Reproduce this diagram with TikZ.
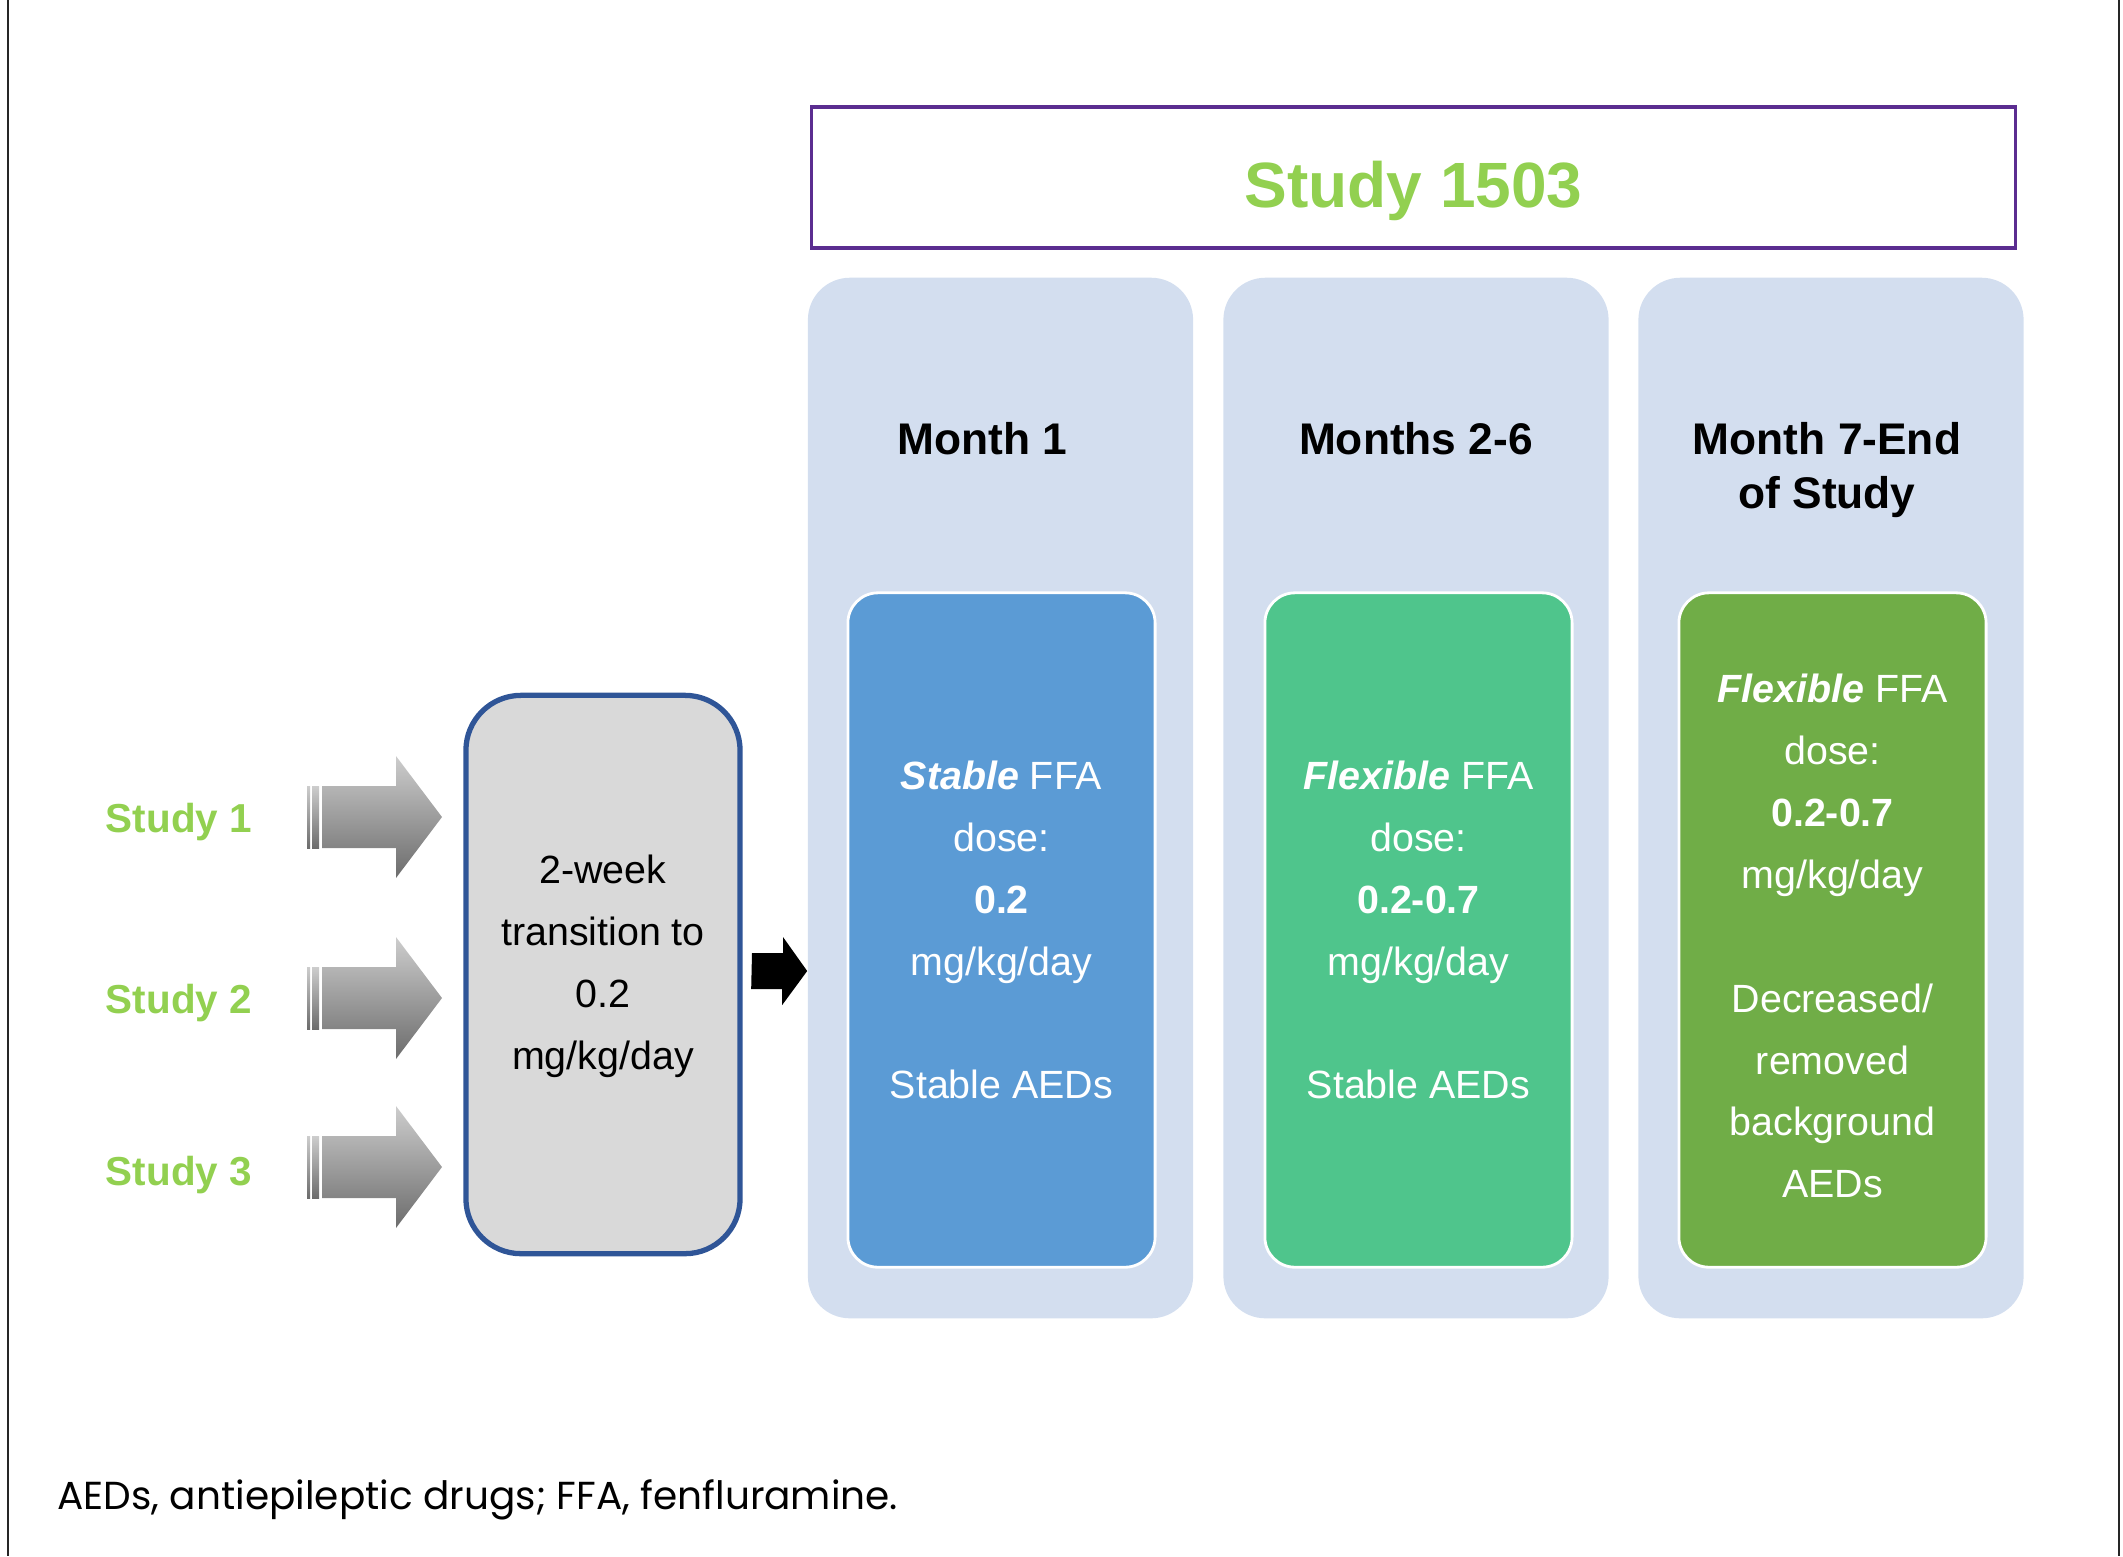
\documentclass[tikz,border=0pt]{standalone}
\usepackage{fontspec}
\setmainfont{Liberation Sans}
\newfontfamily\notefont{Poppins}
\usetikzlibrary{positioning}

\definecolor{panelblue}{HTML}{D3DEEF}
\definecolor{doseblue}{HTML}{5B9BD5}
\definecolor{dosegreen}{HTML}{4FC58C}
\definecolor{doseolive}{HTML}{70AD47}
\definecolor{studygreen}{HTML}{92D050}
\definecolor{transgray}{HTML}{D9D9D9}
\definecolor{transblue}{HTML}{2F5597}
\definecolor{titlepurple}{HTML}{5B2D90}
\definecolor{framegray}{HTML}{262626}
\definecolor{arrtop}{HTML}{CDCDCD}
\definecolor{arrbot}{HTML}{6C6C6C}

\begin{document}
\begin{tikzpicture}[
    x=0.01cm, y=-0.01cm,
    panel/.style={rectangle, rounded corners=0.42cm, fill=panelblue, minimum width=3.85cm, minimum height=10.4cm},
    dosebox/.style={rectangle, rounded corners=0.3cm, draw=white, line width=0.8pt, minimum width=3.07cm, minimum height=6.74cm, text=white, align=center, font=\fontsize{11.2}{17.6}\selectfont},
    header/.style={anchor=north, align=center, font=\bfseries\fontsize{12.6}{15.4}\selectfont},
    study/.style={text=studygreen, font=\bfseries\fontsize{11.5}{14}\selectfont},
    arrowshade/.style={top color=arrtop, bottom color=arrbot},
    node distance=1.33cm
]
    \useasboundingbox (0,0) rectangle (2123,1556);
    % frame
    \draw[framegray, line width=0.6pt] (8,0) -- (8,1556);
    \draw[framegray, line width=0.6pt] (2119,0) -- (2119,1556);

    % Title
    \node[rectangle, draw=titlepurple, line width=0.9pt, minimum width=12.03cm, minimum height=1.41cm] (title) at (1413.5,177.5) {};
    \node[text=studygreen, font=\bfseries\fontsize{18.2}{22}\selectfont] (titletxt) at (1413.5,191) {Study 1503};

    % Panels
    \node[panel] (p1) at (1000.5,798) {};
    \node[panel] (p2) at (1416,798) {};
    \node[panel] (p3) at (1831,798) {};

    \node[header, below=of p1.north, xshift=-0.18cm] (h1) {Month 1};
    \node[header, below=of p2.north] (h2) {Months 2-6};
    \node[header, below=of p3.north, xshift=-0.04cm] (h3) {Month 7-End\\of Study};

    % Dose boxes
    \node[dosebox, fill=doseblue] (d1) at (1001.5,930)
        {\textbf{\textit{Stable}} FFA\\ dose:\\ \textbf{0.2}\\ mg/kg/day\\[17.6pt] Stable AEDs};
    \node[dosebox, fill=dosegreen] (d2) at (1418.5,930)
        {\textbf{\textit{Flexible}} FFA\\ dose:\\ \textbf{0.2-0.7}\\ mg/kg/day\\[17.6pt] Stable AEDs};
    \node[dosebox, fill=doseolive] (d3) at (1832.5,930)
        {\raisebox{0pt}[\height][0pt]{}\\[-6pt]\textbf{\textit{Flexible}} FFA\\ dose:\\ \textbf{0.2-0.7}\\ mg/kg/day\\[17.6pt] Decreased/\\ removed\\ background\\ AEDs};

    % Transition
    \node[rectangle, rounded corners=0.55cm, draw=transblue, line width=1.5pt, fill=transgray,
          minimum width=2.74cm, minimum height=5.58cm] (trans) at (603,974.5) {};
    \node[align=center, font=\fontsize{11.2}{17.6}\selectfont] (transtxt) at (603,966)
        {2-week\\ transition to\\ 0.2\\ mg/kg/day};

    % Studies
    \node[study] (s1) at (179,822) {Study 1};
    \node[study] (s2) at (179,1003) {Study 2};
    \node[study] (s3) at (179,1175) {Study 3};

    % Arrows
    \coordinate (arrx) at (322,0);
    \foreach \s/\dy in {s1/-5,s2/-5,s3/-8} {
        \shade[arrowshade] (\s -| arrx) ++(-15,\dy-31) rectangle ++(3,62);
        \shade[arrowshade] (\s -| arrx) ++(-10,\dy-31) rectangle ++(7,62);
        \shade[arrowshade] (\s -| arrx) ++(0,\dy-31) -- ++(74,0) -- ++(0,-30) -- ++(46,61)
            -- ++(-46,61) -- ++(0,-30) -- ++(-74,0) -- cycle;
    }
    \coordinate (blk) at (752,971);
    \fill[black] (blk) ++(0,-18) -- ++(31,0) -- ++(0,-16) -- (p1.west |- blk) -- ++(-25,34)
        -- ++(0,-16) -- ++(-31,0) -- cycle;

    % Note
    \node[anchor=west, font=\notefont\fontsize{11.1}{13}\selectfont] (note) at (45,1500)
        {AEDs, antiepileptic drugs; FFA, fenfluramine.};
\end{tikzpicture}
\end{document}
